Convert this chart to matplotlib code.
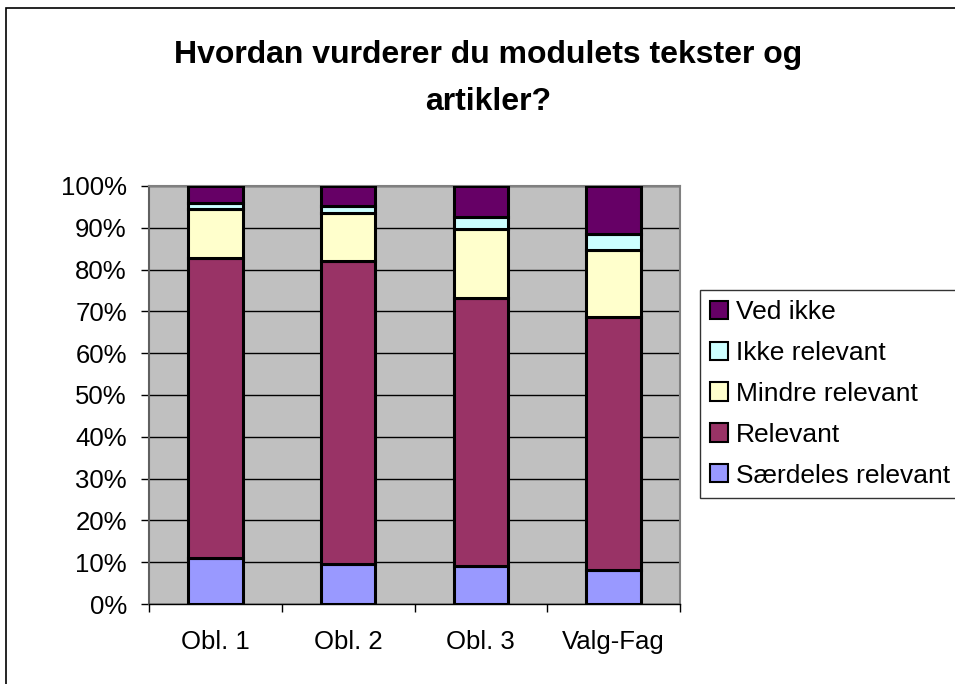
import numpy as np
import matplotlib
matplotlib.use("Agg")
import matplotlib.pyplot as plt
from matplotlib.patches import Rectangle
from matplotlib.ticker import FixedLocator

plt.rcParams['font.family'] = ['Liberation Sans', 'DejaVu Sans']

# data (percent of answers per module)
categories = ["Obl. 1", "Obl. 2", "Obl. 3", "Valg-Fag"]
saerdeles = [10.9, 9.6, 9.1, 8.1]
relevant = [71.8, 72.4, 64.0, 60.6]
mindre = [11.7, 11.5, 16.6, 16.1]
ikke = [1.5, 1.7, 2.9, 3.6]
ved_ikke = [4.1, 4.8, 7.4, 11.6]

series = [
    ("Særdeles relevant", saerdeles, "#9999FF"),
    ("Relevant", relevant, "#993366"),
    ("Mindre relevant", mindre, "#FFFFCC"),
    ("Ikke relevant", ikke, "#CCFFFF"),
    ("Ved ikke", ved_ikke, "#660066"),
]

W, H = 955, 684
fig = plt.figure(figsize=(W / 100, H / 100), dpi=100)
ax = fig.add_axes([149 / W, 1 - 604 / H, (680 - 149) / W, (604 - 186) / H])
ax.set_facecolor("#C0C0C0")

x = np.arange(len(categories))
bottom = np.zeros(len(categories))
handles = []
for name, vals, col in series:
    vals = np.array(vals)
    b = ax.bar(x, vals, 0.41, bottom=bottom, color=col, edgecolor="black",
               linewidth=2.2, label=name, zorder=3)
    bottom = bottom + vals
    handles.append(b)

ax.set_xlim(-0.5, len(categories) - 0.5)
ax.set_ylim(0, 100)
ax.set_yticks(np.arange(0, 101, 10))
ax.set_yticklabels([f"{v}%" for v in range(0, 101, 10)])
ax.yaxis.grid(True, color="black", linewidth=1)
ax.set_axisbelow(True)

ax.set_xticks(x)
ax.set_xticklabels(categories)
ax.xaxis.set_minor_locator(FixedLocator(np.arange(-0.5, len(categories), 1)))
ax.tick_params(axis="x", which="major", length=0, pad=19, labelsize=18.5)
ax.tick_params(axis="x", which="minor", length=6, width=1, direction="out")
ax.tick_params(axis="y", length=6, width=1, direction="out", pad=10, labelsize=18.5)

for s in ["top", "right"]:
    ax.spines[s].set_color("#808080")
    ax.spines[s].set_linewidth(1.5)
ax.spines["left"].set_color("#606060")
ax.spines["left"].set_linewidth(1.5)
ax.spines["bottom"].set_color("black")
ax.spines["bottom"].set_linewidth(1)

fig.text(488 / W, 1 - 63 / H, "Hvordan vurderer du modulets tekster og",
         ha="center", va="baseline", fontsize=23, fontweight="bold")
fig.text(488 / W, 1 - 110 / H, "artikler?",
         ha="center", va="baseline", fontsize=23, fontweight="bold")

leg = fig.legend(handles[::-1], [s[0] for s in series][::-1],
                 loc="upper left", bbox_to_anchor=(700 / W, 1 - 290 / H),
                 fontsize=19, frameon=True, fancybox=False, shadow=False,
                 handlelength=0.68, handleheight=0.68, handletextpad=0.3,
                 borderpad=0.38, labelspacing=0.64, borderaxespad=0)
leg.get_frame().set_edgecolor("black")
leg.get_frame().set_linewidth(1)
for p in leg.get_patches():
    p.set_linewidth(1.5)

# chart area border (cropped on right and bottom)
fig.add_artist(Rectangle((6 / W, -0.1), 2, 1 - 8 / H + 0.1, fill=False,
                         edgecolor="black", linewidth=1.2,
                         transform=fig.transFigure))

fig.savefig("out.png", dpi=100)
